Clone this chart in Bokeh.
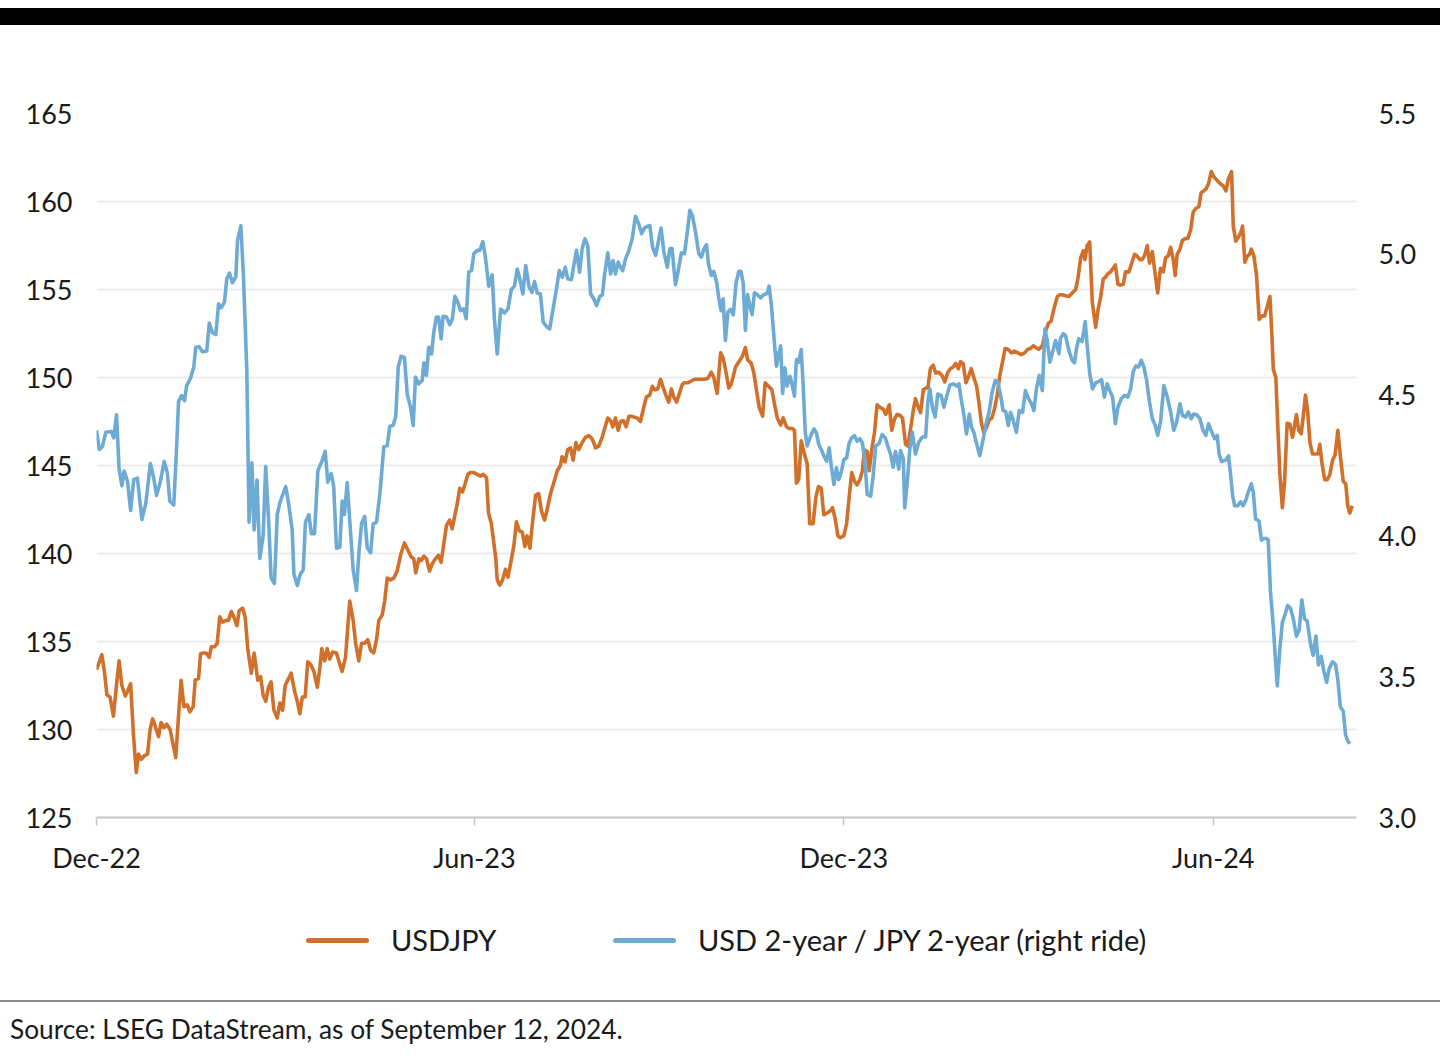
from bokeh.plotting import figure
from bokeh.models import (Range1d, LinearAxis, FixedTicker, Div, PrintfTickFormatter)
from bokeh.layouts import column
from bokeh.embed import file_html
from bokeh.resources import INLINE

# ---------------- data ----------------
# x positions are trading days counted from the first observation (late Dec 2022)
tick_days = [0, 134, 265, 396]
tick_labels = ["Dec-22", "Jun-23", "Dec-23", "Jun-24"]
left_ticks = [125, 130, 135, 140, 145, 150, 155, 160, 165]
right_ticks = [3.0, 3.5, 4.0, 4.5, 5.0, 5.5]
series_names = ["USDJPY", "USD 2-year / JPY 2-year (right ride)"]
source_note = "Source: LSEG DataStream, as of September 12, 2024."

usdjpy_day = [0.0, 1.9, 2.8, 3.7, 4.8, 6.0, 7.2, 8.0, 9.0, 10.2, 11.1, 12.1, 13.1, 14.1, 14.9, 15.9, 16.9, 18.1, 19.0, 19.9,
              20.8, 22.0, 22.9, 23.9, 24.9, 26.1, 27.1, 28.1, 29.1, 30.0, 31.0, 32.2, 33.1, 34.3, 35.0, 36.2, 36.9, 37.9, 38.9, 40.0,
              40.7, 41.8, 42.8, 43.7, 44.7, 45.9, 46.8, 47.8, 48.7, 49.8, 50.6, 51.8, 52.7, 53.7, 54.9, 55.9, 57.2, 58.2, 59.1, 60.0,
              61.0, 61.9, 62.9, 64.1, 65.0, 66.0, 66.9, 67.8, 69.0, 70.2, 71.2, 72.1, 73.0, 74.0, 74.9, 75.9, 77.1, 78.3, 79.2, 79.9,
              80.9, 81.8, 82.7, 83.7, 85.1, 86.1, 87.1, 88.3, 89.1, 89.8, 91.0, 91.9, 93.0, 94.0, 95.1, 96.2, 97.2, 98.3, 99.3, 100.1,
              101.3, 102.2, 103.1, 104.3, 105.4, 106.6, 107.8, 109.2, 110.4, 111.6, 112.5, 113.2, 114.3, 115.2, 116.1, 117.0, 118.1, 119.0, 120.2, 121.2,
              122.2, 123.2, 124.1, 125.2, 126.1, 127.1, 127.9, 128.8, 129.8, 130.6, 131.7, 132.6, 133.8, 135.0, 136.2, 137.1, 138.3, 139.0, 140.0, 140.9,
              141.6, 142.1, 143.0, 144.0, 145.0, 145.9, 146.8, 148.0, 148.9, 149.9, 151.0, 151.9, 152.7, 153.7, 154.5, 155.7, 156.8, 157.8, 158.9, 159.8,
              161.0, 162.2, 163.4, 164.5, 165.1, 166.1, 167.1, 168.1, 169.0, 170.0, 171.0, 172.2, 173.4, 174.6, 175.8, 177.0, 178.1, 179.3, 180.2, 181.3,
              182.3, 183.1, 184.0, 185.0, 185.8, 186.8, 187.8, 188.8, 189.6, 190.5, 191.7, 192.9, 193.9, 195.0, 196.2, 197.1, 198.0, 199.0, 200.0, 201.0,
              201.9, 202.9, 203.9, 204.7, 205.7, 206.7, 207.7, 208.5, 209.7, 210.9, 212.1, 213.2, 214.4, 215.6, 216.8, 218.0, 218.9, 220.1, 221.3, 222.2,
              223.0, 224.2, 225.0, 225.8, 226.6, 227.8, 229.0, 230.1, 230.9, 232.2, 233.1, 234.0, 235.0, 236.2, 237.1, 238.3, 239.5, 240.4, 241.4, 242.6,
              243.5, 244.7, 245.6, 246.8, 247.5, 248.2, 249.0, 249.9, 250.8, 252.0, 252.9, 254.1, 255.1, 256.0, 257.0, 257.9, 259.1, 260.0, 261.0, 261.9,
              262.9, 263.8, 265.0, 266.0, 266.9, 267.8, 268.8, 269.7, 270.7, 271.6, 272.3, 273.3, 274.0, 274.9, 275.9, 276.8, 277.8, 279.0, 279.9, 281.1,
              282.0, 283.0, 283.9, 284.9, 285.8, 286.9, 287.7, 288.7, 289.6, 290.4, 291.2, 292.2, 293.2, 294.1, 294.8, 295.7, 296.7, 297.6, 298.7, 299.9,
              300.8, 301.9, 302.8, 303.8, 304.7, 305.6, 306.4, 307.3, 308.3, 309.1, 310.2, 311.1, 312.1, 312.9, 313.8, 314.6, 315.6, 316.6, 317.5, 318.4,
              319.4, 320.3, 321.3, 322.2, 323.2, 324.4, 325.5, 326.7, 327.9, 329.1, 330.2, 331.2, 332.2, 333.1, 334.2, 335.4, 336.5, 337.6, 338.5, 339.5,
              340.7, 341.6, 342.5, 343.6, 344.8, 346.0, 347.2, 348.0, 349.0, 349.9, 350.5, 351.3, 352.2, 353.1, 354.3, 355.2, 356.0, 357.0, 357.8, 358.6,
              359.6, 360.5, 361.3, 362.2, 363.1, 364.1, 364.9, 366.1, 367.0, 368.1, 369.0, 370.0, 370.8, 371.6, 372.6, 373.4, 374.4, 375.3, 376.3, 377.3,
              378.3, 379.1, 380.0, 380.9, 381.8, 382.5, 383.2, 384.2, 385.1, 386.1, 387.0, 388.0, 388.9, 389.8, 390.9, 391.7, 392.6, 393.4, 394.3, 395.3,
              396.2, 397.4, 398.6, 399.5, 400.5, 401.4, 402.5, 403.1, 404.0, 405.0, 405.7, 406.4, 407.2, 408.1, 408.9, 409.5, 410.4, 411.3, 412.3, 413.4,
              414.2, 415.1, 416.1, 416.8, 417.3, 418.2, 418.9, 419.6, 420.5, 421.3, 422.2, 423.2, 424.1, 424.8, 425.5, 426.3, 427.2, 428.1, 428.7, 429.5,
              430.3, 431.2, 432.2, 433.1, 433.8, 434.5, 435.5, 436.4, 437.3, 438.3, 439.2, 440.2, 441.1, 442.1, 443.0, 443.7, 444.4, 445.3]
usdjpy = [133.4, 134.25, 133.3, 131.96, 131.85, 130.76, 132.7, 133.9, 132.5, 131.9, 132.2, 132.6, 129.7, 127.56, 128.6, 128.3, 128.5, 128.6, 130.0, 130.6,
          130.2, 129.6, 130.4, 130.1, 130.3, 130.0, 129.2, 128.4, 130.8, 132.8, 131.3, 131.4, 131.0, 131.3, 132.8, 132.9, 134.3, 134.35, 134.35, 134.1,
          134.7, 134.7, 134.9, 136.4, 136.1, 136.2, 136.2, 136.7, 136.4, 135.9, 136.75, 136.9, 136.4, 134.5, 133.2, 134.35, 132.8, 133.0, 131.96, 131.6,
          132.4, 132.7, 131.1, 130.65, 131.5, 131.1, 132.5, 132.8, 133.2, 132.2, 131.6, 130.9, 131.85, 131.85, 133.85, 133.7, 133.3, 132.4, 133.5, 134.6,
          133.9, 134.6, 134.0, 134.4, 134.35, 133.8, 133.3, 134.1, 135.8, 137.3, 136.2, 134.9, 133.9, 134.9, 134.9, 135.1, 134.5, 134.35, 135.1, 136.2,
          136.5, 137.3, 138.6, 138.5, 138.6, 139.0, 139.9, 140.6, 140.2, 139.8, 139.7, 138.9, 139.7, 139.6, 139.85, 139.7, 139.0, 139.4, 139.7, 139.9,
          139.5, 140.6, 141.6, 141.9, 141.4, 142.2, 142.8, 143.7, 143.5, 143.9, 144.5, 144.6, 144.6, 144.5, 144.4, 144.5, 144.3, 142.3, 141.7, 140.6,
          139.7, 138.5, 138.2, 138.5, 139.1, 138.65, 139.4, 140.45, 141.8, 141.3, 141.2, 140.4, 141.0, 140.3, 141.6, 143.3, 143.4, 142.4, 141.9, 142.5,
          143.4, 144.05, 144.7, 145.0, 145.5, 145.2, 145.9, 146.0, 145.3, 146.3, 145.9, 146.3, 146.6, 146.7, 146.5, 146.0, 146.1, 146.6, 147.1, 147.7,
          147.55, 147.2, 147.7, 147.0, 147.5, 147.55, 147.2, 147.8, 147.8, 147.75, 147.7, 147.5, 148.2, 148.9, 149.0, 149.5, 149.3, 149.35, 149.9, 149.4,
          149.0, 148.6, 149.35, 148.9, 148.6, 149.1, 149.6, 149.7, 149.7, 149.8, 149.9, 149.9, 149.9, 149.9, 149.96, 150.3, 150.0, 149.1, 151.4, 151.1,
          150.5, 149.4, 149.6, 150.06, 150.6, 150.9, 151.2, 151.7, 151.0, 150.8, 150.25, 149.3, 148.3, 147.8, 149.7, 149.5, 149.3, 148.5, 147.7, 147.3,
          147.7, 147.2, 147.1, 147.1, 147.0, 144.0, 144.2, 146.4, 145.8, 145.1, 141.7, 141.7, 143.2, 143.8, 143.7, 142.2, 142.3, 142.4, 142.6, 142.0,
          141.0, 140.9, 141.0, 141.7, 143.2, 144.6, 144.1, 143.9, 144.2, 144.7, 145.9, 145.8, 144.7, 145.9, 146.9, 148.45, 148.3, 148.2, 147.9, 148.45,
          147.0, 147.65, 147.9, 147.85, 147.7, 146.2, 146.1, 147.1, 148.1, 148.8, 148.4, 148.0, 149.3, 149.4, 149.4, 150.5, 150.7, 150.25, 150.3, 150.1,
          149.75, 150.3, 150.5, 150.6, 150.8, 150.5, 150.9, 150.8, 149.7, 150.0, 150.5, 150.0, 149.5, 148.6, 147.4, 146.9, 147.15, 147.6, 147.7, 148.2,
          149.0, 150.1, 150.9, 151.65, 151.6, 151.4, 151.5, 151.4, 151.3, 151.4, 151.6, 151.65, 151.8, 151.7, 151.6, 151.8, 152.6, 153.1, 153.2, 153.9,
          154.6, 154.7, 154.7, 154.65, 154.6, 154.8, 155.0, 155.6, 156.8, 157.2, 156.7, 157.5, 157.7, 154.3, 152.85, 153.9, 154.5, 155.6, 155.7, 155.9,
          156.0, 156.2, 156.4, 155.3, 155.25, 155.3, 156.0, 156.0, 156.45, 157.0, 156.9, 156.7, 156.7, 156.9, 157.5, 156.5, 157.15, 156.0, 154.8, 156.2,
          156.0, 156.8, 156.9, 157.4, 156.7, 155.8, 157.0, 157.3, 157.8, 157.9, 157.9, 158.4, 159.4, 159.6, 159.7, 160.5, 160.6, 160.7, 161.0, 161.7,
          161.4, 161.2, 161.0, 160.9, 160.6, 161.3, 161.7, 158.6, 157.75, 158.0, 158.2, 158.6, 156.55, 156.9, 157.0, 157.3, 156.9, 155.9, 153.3, 153.5,
          153.5, 154.0, 154.6, 152.4, 150.45, 150.0, 147.2, 144.6, 142.6, 144.1, 147.4, 147.35, 146.6, 147.2, 147.9, 147.0, 146.8, 148.05, 149.0, 148.05,
          146.3, 145.65, 145.65, 145.65, 146.2, 145.2, 144.2, 144.2, 144.45, 145.3, 145.6, 147.0, 145.5, 144.1, 143.95, 142.7, 142.3, 142.7]

spread_day = [0.0, 1.0, 2.1, 3.3, 5.2, 6.1, 7.1, 8.0, 9.0, 9.8, 11.0, 12.1, 13.2, 14.5, 16.1, 17.5, 19.1, 20.3, 21.3, 22.6,
              24.0, 25.1, 26.0, 27.4, 28.4, 29.1, 30.2, 31.2, 32.0, 33.3, 34.5, 35.2, 36.4, 37.6, 39.1, 40.0, 41.1, 42.3, 43.3, 44.2,
              45.4, 46.2, 47.2, 48.2, 49.4, 50.0, 51.2, 52.1, 53.3, 54.1, 55.1, 55.9, 56.9, 57.9, 59.1, 60.0, 61.1, 61.9, 63.1, 64.1,
              65.0, 66.2, 67.1, 68.2, 69.4, 70.0, 71.2, 72.3, 73.3, 74.1, 75.3, 76.2, 77.3, 78.5, 79.7, 81.1, 82.0, 83.2, 84.1, 85.1,
              86.3, 87.1, 87.9, 88.9, 89.8, 91.0, 92.2, 93.0, 94.0, 95.1, 96.0, 97.2, 98.1, 99.3, 100.5, 101.9, 103.1, 104.0, 105.2, 106.1,
              107.0, 108.0, 109.2, 110.2, 111.3, 112.3, 113.1, 114.3, 115.5, 116.1, 117.0, 117.8, 118.8, 119.6, 120.5, 121.3, 122.2, 122.9, 124.1, 125.3,
              126.2, 127.1, 128.1, 129.1, 130.2, 131.1, 132.0, 133.0, 133.8, 135.0, 135.9, 137.0, 137.9, 139.1, 140.3, 141.1, 142.1, 143.3, 144.7, 145.9,
              147.1, 148.2, 149.2, 150.1, 151.2, 152.2, 153.4, 154.4, 155.3, 156.3, 157.4, 158.4, 159.8, 160.7, 161.9, 163.1, 164.1, 165.2, 166.2, 167.1,
              168.4, 169.3, 170.2, 171.3, 172.2, 173.2, 174.2, 175.2, 176.3, 177.3, 178.5, 179.4, 180.2, 181.3, 182.3, 183.2, 184.0, 185.0, 185.8, 186.6,
              187.6, 188.8, 190.0, 191.1, 192.3, 193.3, 194.3, 195.5, 196.2, 197.2, 198.3, 199.3, 200.2, 201.2, 202.4, 203.3, 204.1, 205.3, 206.4, 207.4,
              208.5, 209.5, 210.4, 211.3, 212.3, 213.6, 214.5, 215.4, 216.3, 217.0, 218.0, 218.9, 219.9, 220.7, 221.5, 222.2, 223.0, 223.9, 224.8, 225.8,
              226.8, 227.8, 228.5, 229.3, 230.1, 230.9, 231.7, 232.5, 233.3, 234.3, 235.5, 236.6, 237.8, 238.5, 239.3, 240.2, 241.1, 242.0, 242.6, 243.3,
              244.1, 244.9, 245.9, 246.8, 247.5, 248.2, 249.0, 249.9, 250.6, 251.3, 252.0, 253.2, 254.4, 255.3, 256.1, 257.0, 257.9, 258.9, 259.8, 260.6,
              261.5, 262.4, 263.2, 264.2, 265.0, 266.0, 266.9, 267.8, 268.8, 269.7, 270.7, 271.6, 272.4, 273.3, 274.5, 275.4, 276.3, 277.5, 278.6, 279.7,
              280.6, 281.6, 282.5, 283.3, 284.5, 285.1, 286.1, 286.6, 287.5, 288.4, 289.3, 290.4, 291.6, 292.8, 294.0, 294.8, 295.5, 296.5, 297.4, 298.3,
              299.5, 300.5, 301.4, 302.6, 303.8, 305.0, 305.8, 306.6, 307.6, 308.5, 309.5, 310.3, 311.1, 312.1, 313.2, 314.2, 315.4, 316.6, 317.6, 318.7,
              319.6, 320.6, 321.5, 322.4, 323.3, 324.1, 325.1, 326.2, 327.2, 328.4, 329.4, 330.5, 331.4, 332.4, 333.3, 334.3, 335.4, 336.3, 337.1, 338.1,
              339.0, 340.1, 341.3, 341.8, 342.8, 343.6, 344.8, 346.0, 346.8, 347.5, 348.3, 349.5, 350.1, 350.6, 351.3, 352.2, 353.2, 354.3, 355.4, 356.4,
              357.4, 358.4, 359.3, 360.3, 361.3, 362.2, 363.4, 364.5, 365.7, 366.7, 367.6, 368.5, 369.5, 370.5, 371.4, 372.3, 373.3, 374.4, 375.4, 376.3,
              377.3, 378.5, 379.7, 380.9, 382.0, 383.0, 384.2, 385.1, 386.2, 387.2, 388.2, 389.1, 390.1, 391.2, 392.4, 393.4, 394.3, 395.3, 396.5, 397.4,
              398.1, 399.0, 400.4, 401.4, 402.1, 402.9, 403.6, 404.7, 405.7, 406.6, 407.6, 408.4, 409.5, 410.2, 411.0, 412.2, 413.1, 413.9, 414.9, 415.5,
              416.3, 417.3, 418.1, 418.7, 419.6, 420.5, 421.4, 422.4, 423.4, 424.4, 425.5, 426.5, 427.4, 428.4, 429.3, 430.5, 431.4, 432.4, 433.3, 434.3,
              435.2, 436.2, 437.1, 438.3, 439.4, 440.2, 441.1, 442.1, 442.9, 443.5, 444.4]
spread = [4.375, 4.307, 4.317, 4.368, 4.371, 4.348, 4.43, 4.239, 4.178, 4.23, 4.194, 4.09, 4.20, 4.205, 4.058, 4.117, 4.257, 4.205, 4.144, 4.191,
          4.264, 4.225, 4.124, 4.11, 4.314, 4.477, 4.498, 4.48, 4.534, 4.559, 4.60, 4.67, 4.672, 4.654, 4.657, 4.756, 4.722, 4.715, 4.824, 4.81,
          4.831, 4.913, 4.933, 4.899, 4.92, 5.049, 5.101, 4.926, 4.586, 4.049, 4.26, 4.021, 4.198, 3.92, 4.001, 4.246, 4.042, 3.851, 3.831, 4.076,
          4.117, 4.151, 4.175, 4.11, 4.021, 3.865, 3.824, 3.865, 3.879, 4.049, 4.075, 4.008, 4.008, 4.232, 4.259, 4.30, 4.191, 4.221, 4.178, 3.956,
          3.96, 4.124, 4.076, 4.189, 4.056, 3.881, 3.806, 3.933, 4.045, 4.069, 3.958, 3.94, 4.042, 4.049, 4.151, 4.317, 4.321, 4.389, 4.393, 4.423,
          4.60, 4.638, 4.634, 4.502, 4.46, 4.392, 4.564, 4.54, 4.552, 4.615, 4.57, 4.67, 4.646, 4.723, 4.777, 4.777, 4.70, 4.78, 4.777, 4.75,
          4.771, 4.851, 4.83, 4.80, 4.806, 4.771, 4.937, 4.943, 5.002, 5.014, 5.014, 5.045, 4.99, 4.887, 4.927, 4.771, 4.646, 4.806, 4.792, 4.806,
          4.875, 4.887, 4.948, 4.913, 4.859, 4.96, 4.883, 4.865, 4.903, 4.863, 4.859, 4.759, 4.741, 4.735, 4.806, 4.877, 4.942, 4.919, 4.954, 4.913,
          4.91, 4.963, 5.014, 4.936, 5.02, 5.055, 5.031, 4.86, 4.842, 4.818, 4.851, 4.856, 4.93, 5.005, 4.93, 4.978, 4.93, 4.972, 4.954, 4.942,
          4.984, 5.014, 5.057, 5.135, 5.108, 5.073, 5.093, 5.10, 5.102, 5.025, 4.996, 5.049, 5.093, 5.008, 4.954, 5.02, 5.02, 4.892, 4.948, 5.005,
          5.002, 5.079, 5.156, 5.138, 5.085, 5.002, 4.99, 5.02, 5.034, 4.966, 4.925, 4.939, 4.901, 4.842, 4.80, 4.842, 4.694, 4.795, 4.804, 4.785,
          4.90, 4.94, 4.94, 4.899, 4.73, 4.857, 4.816, 4.786, 4.863, 4.857, 4.845, 4.857, 4.861, 4.887, 4.822, 4.709, 4.603, 4.65, 4.674, 4.506,
          4.597, 4.532, 4.567, 4.532, 4.496, 4.626, 4.617, 4.662, 4.532, 4.372, 4.319, 4.354, 4.38, 4.366, 4.325, 4.307, 4.285, 4.265, 4.313, 4.245,
          4.183, 4.242, 4.20, 4.23, 4.271, 4.277, 4.33, 4.348, 4.356, 4.336, 4.345, 4.33, 4.271, 4.147, 4.141, 4.212, 4.319, 4.328, 4.36, 4.348,
          4.319, 4.29, 4.244, 4.30, 4.237, 4.303, 4.274, 4.10, 4.19, 4.309, 4.368, 4.291, 4.333, 4.351, 4.351, 4.475, 4.522, 4.451, 4.422, 4.504,
          4.499, 4.457, 4.493, 4.536, 4.54, 4.532, 4.54, 4.487, 4.428, 4.362, 4.433, 4.386, 4.368, 4.327, 4.285, 4.333, 4.394, 4.445, 4.51, 4.552,
          4.546, 4.499, 4.445, 4.442, 4.392, 4.439, 4.41, 4.368, 4.445, 4.439, 4.516, 4.487, 4.473, 4.445, 4.522, 4.57, 4.516, 4.735, 4.694, 4.617,
          4.652, 4.694, 4.647, 4.70, 4.718, 4.712, 4.659, 4.623, 4.615, 4.665, 4.70, 4.69, 4.729, 4.761, 4.676, 4.576, 4.522, 4.544, 4.548, 4.555,
          4.493, 4.54, 4.516, 4.493, 4.398, 4.457, 4.487, 4.499, 4.493, 4.522, 4.582, 4.603, 4.60, 4.623, 4.60, 4.558, 4.481, 4.416, 4.393, 4.357,
          4.404, 4.534, 4.493, 4.44, 4.375, 4.404, 4.469, 4.428, 4.422, 4.44, 4.416, 4.433, 4.43, 4.418, 4.374, 4.357, 4.398, 4.374, 4.345, 4.357,
          4.29, 4.264, 4.269, 4.284, 4.223, 4.141, 4.107, 4.107, 4.121, 4.107, 4.128, 4.155, 4.185, 4.155, 4.06, 4.053, 3.985, 3.991, 3.991, 3.985,
          3.801, 3.679, 3.555, 3.467, 3.596, 3.692, 3.719, 3.753, 3.743, 3.705, 3.644, 3.667, 3.773, 3.705, 3.698, 3.617, 3.576, 3.644, 3.542, 3.572,
          3.521, 3.48, 3.528, 3.553, 3.542, 3.487, 3.392, 3.378, 3.296, 3.276, 3.262]

# ---------------- style ----------------
FONT = "Lato"
TEXT = "#1a1a1a"
ORANGE = "#d0702b"
BLUE = "#6dabd5"
GRID = "#ebebeb"
AXIS = "#c6c6c6"

p = figure(width=1440, height=875, x_range=Range1d(0, 446.8), y_range=Range1d(125, 165),
           output_backend="svg", toolbar_location=None,
           min_border_left=96, min_border_right=84, min_border_top=88, min_border_bottom=83)
p.outline_line_color = None
p.background_fill_color = "white"
p.border_fill_color = "white"

p.extra_y_ranges = {"spread": Range1d(3.0, 5.5)}
right_axis = LinearAxis(y_range_name="spread", ticker=FixedTicker(ticks=right_ticks),
                        formatter=PrintfTickFormatter(format="%.1f"))
p.add_layout(right_axis, "right")

p.xaxis.ticker = FixedTicker(ticks=tick_days)
p.xaxis.major_label_overrides = {d: lab for d, lab in zip(tick_days, tick_labels)}
p.xaxis.axis_line_color = AXIS
p.xaxis.axis_line_width = 2
p.xaxis.major_tick_line_color = AXIS
p.xaxis.major_tick_line_width = 1.5
p.xaxis.major_tick_out = 8
p.xaxis.major_tick_in = 0
p.xaxis.minor_tick_line_color = None
p.xaxis.major_label_standoff = 15

p.yaxis[0].ticker = FixedTicker(ticks=left_ticks)
for ax in p.yaxis:
    ax.axis_line_color = None
    ax.major_tick_line_color = None
    ax.minor_tick_line_color = None
    ax.major_tick_out = 0
    ax.major_tick_in = 0
p.yaxis[0].major_label_standoff = 24
right_axis.major_label_standoff = 22

for ax in list(p.xaxis) + list(p.yaxis):
    ax.major_label_text_font = FONT
    ax.major_label_text_font_size = "27px"
    ax.major_label_text_color = TEXT

p.xgrid.visible = False
p.ygrid.grid_line_color = GRID
p.ygrid.grid_line_width = 2

p.line(usdjpy_day, usdjpy, line_color=ORANGE, line_width=3.6, line_join="round")
p.line(spread_day, spread, line_color=BLUE, line_width=3.6, line_join="round", y_range_name="spread")

# ---------------- page furniture ----------------
top_space = Div(text="", width=1440, height=8, margin=0)
bar = Div(text="", width=1440, height=17, margin=0, styles={"background-color": "#000000"})

swatch = "position:absolute;top:38px;width:63px;height:5px;border-radius:2.5px;"
lab = "position:absolute;top:23px;line-height:34px;white-space:nowrap;"
legend_html = (
    '<div style="position:relative;width:1440px;height:100px;font-family:Lato;font-size:29px;color:%s;">'
    '<div style="%sleft:306px;background:%s;"></div>'
    '<div style="%sleft:391px;">%s</div>'
    '<div style="%sleft:613px;background:%s;"></div>'
    '<div style="%sleft:698px;">%s</div>'
    '</div>' % (TEXT, swatch, ORANGE, lab, series_names[0], swatch, BLUE, lab, series_names[1]))
legend = Div(text=legend_html, width=1440, height=100, margin=0)

sep = Div(text="", width=1440, height=2, margin=0, styles={"background-color": "#8c8c8c"})
src = Div(text='<div style="padding:12px 0 0 10px;font-family:Lato;font-size:26.3px;line-height:30px;'
               'color:%s;white-space:nowrap">%s</div>' % (TEXT, source_note),
          width=1440, height=54, margin=0)

layout = column(top_space, bar, p, legend, sep, src, spacing=0)
open("out.html", "w").write(file_html(layout, INLINE))
